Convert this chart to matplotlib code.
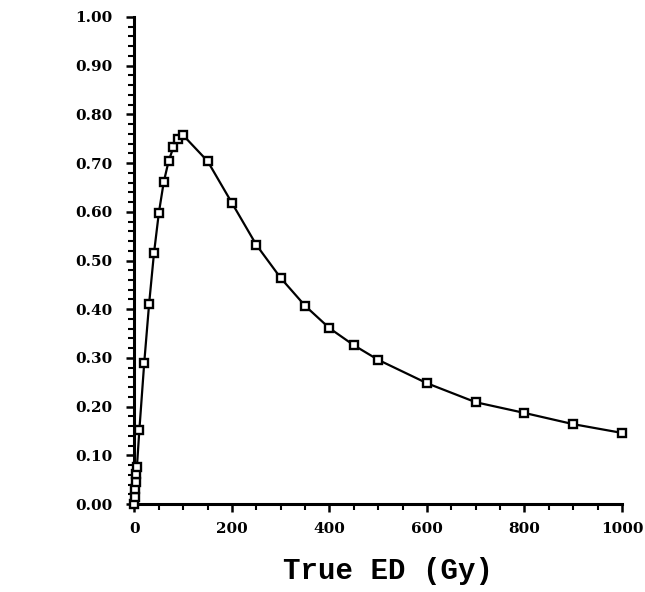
import matplotlib
matplotlib.use('Agg')
import matplotlib.pyplot as plt
from matplotlib.ticker import MultipleLocator, FormatStrFormatter

# data
true_ed = [0, 1, 2, 3, 4, 5, 10, 20, 30, 40, 50, 60, 70, 80, 90, 100,
           150, 200, 250, 300, 350, 400, 450, 500, 600, 700, 800, 900, 1000]
values = [0.0, 0.015, 0.03, 0.046, 0.061, 0.076, 0.152, 0.29, 0.411, 0.515,
          0.598, 0.661, 0.704, 0.733, 0.749, 0.757, 0.704, 0.618, 0.532,
          0.464, 0.407, 0.361, 0.326, 0.296, 0.248, 0.209, 0.187, 0.164, 0.146]
x_label = 'True ED (Gy)'

fig = plt.figure(figsize=(6.45, 5.92), dpi=100)
ax = fig.add_axes([0.2085, 0.1486, 0.7558, 0.8227])

ax.plot(true_ed, values, color='black', lw=1.6, marker='s', ms=6.3,
        mfc='white', mec='black', mew=1.7, clip_on=False, zorder=3)

ax.set_xlim(0, 1000)
ax.set_ylim(0, 1.0)

ax.spines['top'].set_visible(False)
ax.spines['right'].set_visible(False)
for s in ('left', 'bottom'):
    ax.spines[s].set_linewidth(2.2)

ax.xaxis.set_major_locator(MultipleLocator(200))
ax.xaxis.set_minor_locator(MultipleLocator(50))
ax.yaxis.set_major_locator(MultipleLocator(0.1))
ax.yaxis.set_minor_locator(MultipleLocator(0.02))
ax.yaxis.set_major_formatter(FormatStrFormatter('%.2f'))

ax.tick_params(axis='both', which='major', length=6, width=1.8, direction='out')
ax.tick_params(axis='both', which='minor', length=4, width=1.5, direction='out')
ax.tick_params(axis='y', which='major', pad=10)
ax.tick_params(axis='x', which='major', pad=7)

for lab in ax.get_xticklabels() + ax.get_yticklabels():
    lab.set_fontfamily('DejaVu Serif')
    lab.set_fontweight('bold')
    lab.set_fontsize(11)

fig.text(0.602, 0.036, x_label, ha='center', va='center',
         fontfamily='Liberation Mono', fontweight='bold', fontsize=21)

fig.savefig('out.png', dpi=100)
